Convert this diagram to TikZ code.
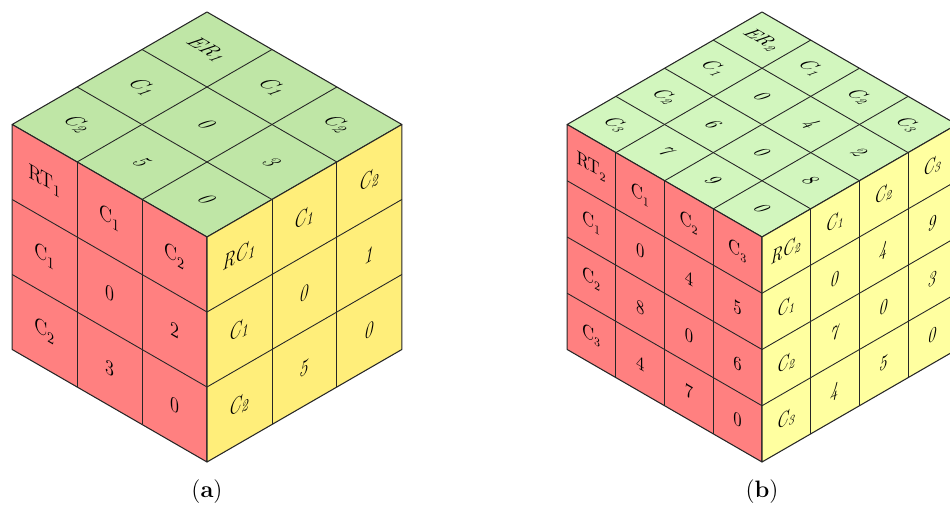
\documentclass[tikz,border=0pt]{standalone}
\definecolor{greenA}{RGB}{191,230,166}
\definecolor{greenB}{RGB}{210,246,190}
\definecolor{redface}{RGB}{255,128,128}
\definecolor{yellowA}{RGB}{255,238,122}
\definecolor{yellowB}{RGB}{255,255,160}
\tikzset{
  face/.style={draw=black!85, line width=0.6pt, line join=round},
  gridline/.style={draw=black!85, line width=0.5pt},
  celltext/.style={transform shape, inner sep=0pt},
  bigcube/.style={x=1.5cm, y=1.5cm, font=\fontsize{13}{15}\selectfont},
  smallcube/.style={x=1.125cm, y=1.125cm, font=\fontsize{10.5}{12}\selectfont},
  capt/.style={font=\fontsize{13.5}{15}\selectfont},
}
\begin{document}
\begin{tikzpicture}
  \clip (0,0) rectangle (19,10.14);
  % Cube (a): front corner (4.14,5.40), edge 4.5
  % top face
  \begin{scope}[shift={(4.14,9.90)}, cm={0.866,-0.5,0.866,0.5,(0,0)}, bigcube]
    \fill[greenA] (0,0) -- (3,0) -- (3,-3) -- (0,-3) -- cycle;
    \foreach \k in {1,2} {
      \draw[gridline] (\k,0) -- (\k,-3);
      \draw[gridline] (0,-\k) -- (3,-\k);
    }
    \draw[face] (0,0) -- (3,0) -- (3,-3) -- (0,-3) -- cycle;
    \foreach \lab [count=\n from 0] in {ER_1,C_1,C_2,C_1,0,3,C_2,5,0}
      \node[celltext] (a-top-\n) at ({mod(\n,3)+0.5},{-int(\n/3)-0.5}) {$\mathit{\lab}$};
  \end{scope}
  % left face
  \begin{scope}[shift={(0.243,7.65)}, cm={0.866,-0.5,0,1,(0,0)}, bigcube]
    \fill[redface] (0,0) -- (3,0) -- (3,-3) -- (0,-3) -- cycle;
    \foreach \k in {1,2} {
      \draw[gridline] (\k,0) -- (\k,-3);
      \draw[gridline] (0,-\k) -- (3,-\k);
    }
    \draw[face] (0,0) -- (3,0) -- (3,-3) -- (0,-3) -- cycle;
    \foreach \lab [count=\n from 0] in {RT_1,C_1,C_2,C_1,0,2,C_2,3,0}
      \node[celltext] (a-left-\n) at ({mod(\n,3)+0.5},{-int(\n/3)-0.5}) {$\mathrm{\lab}$};
  \end{scope}
  % right face
  \begin{scope}[shift={(4.14,5.40)}, cm={0.866,0.5,0,1,(0,0)}, bigcube]
    \fill[yellowA] (0,0) -- (3,0) -- (3,-3) -- (0,-3) -- cycle;
    \foreach \k in {1,2} {
      \draw[gridline] (\k,0) -- (\k,-3);
      \draw[gridline] (0,-\k) -- (3,-\k);
    }
    \draw[face] (0,0) -- (3,0) -- (3,-3) -- (0,-3) -- cycle;
    \foreach \lab [count=\n from 0] in {RC_1,C_1,C_2,C_1,0,1,C_2,5,0}
      \node[celltext] (a-right-\n) at ({mod(\n,3)+0.5},{-int(\n/3)-0.5}) {$\mathit{\lab}$};
  \end{scope}
  \node[capt] (cap-a) at (4.14,0.30) {(\textbf{a})};

  % Cube (b): front corner (15.24,5.40), edge 4.5
  % top face
  \begin{scope}[shift={(15.24,9.90)}, cm={0.866,-0.5,0.866,0.5,(0,0)}, smallcube]
    \fill[greenB] (0,0) -- (4,0) -- (4,-4) -- (0,-4) -- cycle;
    \foreach \k in {1,2,3} {
      \draw[gridline] (\k,0) -- (\k,-4);
      \draw[gridline] (0,-\k) -- (4,-\k);
    }
    \draw[face] (0,0) -- (4,0) -- (4,-4) -- (0,-4) -- cycle;
    \foreach \lab [count=\n from 0] in {ER_2,C_1,C_2,C_3,C_1,0,4,2,C_2,6,0,8,C_3,7,9,0}
      \node[celltext] (b-top-\n) at ({mod(\n,4)+0.5},{-int(\n/4)-0.5}) {$\mathit{\lab}$};
  \end{scope}
  % left face
  \begin{scope}[shift={(11.343,7.65)}, cm={0.866,-0.5,0,1,(0,0)}, smallcube]
    \fill[redface] (0,0) -- (4,0) -- (4,-4) -- (0,-4) -- cycle;
    \foreach \k in {1,2,3} {
      \draw[gridline] (\k,0) -- (\k,-4);
      \draw[gridline] (0,-\k) -- (4,-\k);
    }
    \draw[face] (0,0) -- (4,0) -- (4,-4) -- (0,-4) -- cycle;
    \foreach \lab [count=\n from 0] in {RT_2,C_1,C_2,C_3,C_1,0,4,5,C_2,8,0,6,C_3,4,7,0}
      \node[celltext] (b-left-\n) at ({mod(\n,4)+0.5},{-int(\n/4)-0.5}) {$\mathrm{\lab}$};
  \end{scope}
  % right face
  \begin{scope}[shift={(15.24,5.40)}, cm={0.866,0.5,0,1,(0,0)}, smallcube]
    \fill[yellowB] (0,0) -- (4,0) -- (4,-4) -- (0,-4) -- cycle;
    \foreach \k in {1,2,3} {
      \draw[gridline] (\k,0) -- (\k,-4);
      \draw[gridline] (0,-\k) -- (4,-\k);
    }
    \draw[face] (0,0) -- (4,0) -- (4,-4) -- (0,-4) -- cycle;
    \foreach \lab [count=\n from 0] in {RC_2,C_1,C_2,C_3,C_1,0,4,9,C_2,7,0,3,C_3,4,5,0}
      \node[celltext] (b-right-\n) at ({mod(\n,4)+0.5},{-int(\n/4)-0.5}) {$\mathit{\lab}$};
  \end{scope}
  \node[capt] (cap-b) at (15.24,0.30) {(\textbf{b})};
\end{tikzpicture}
\end{document}
